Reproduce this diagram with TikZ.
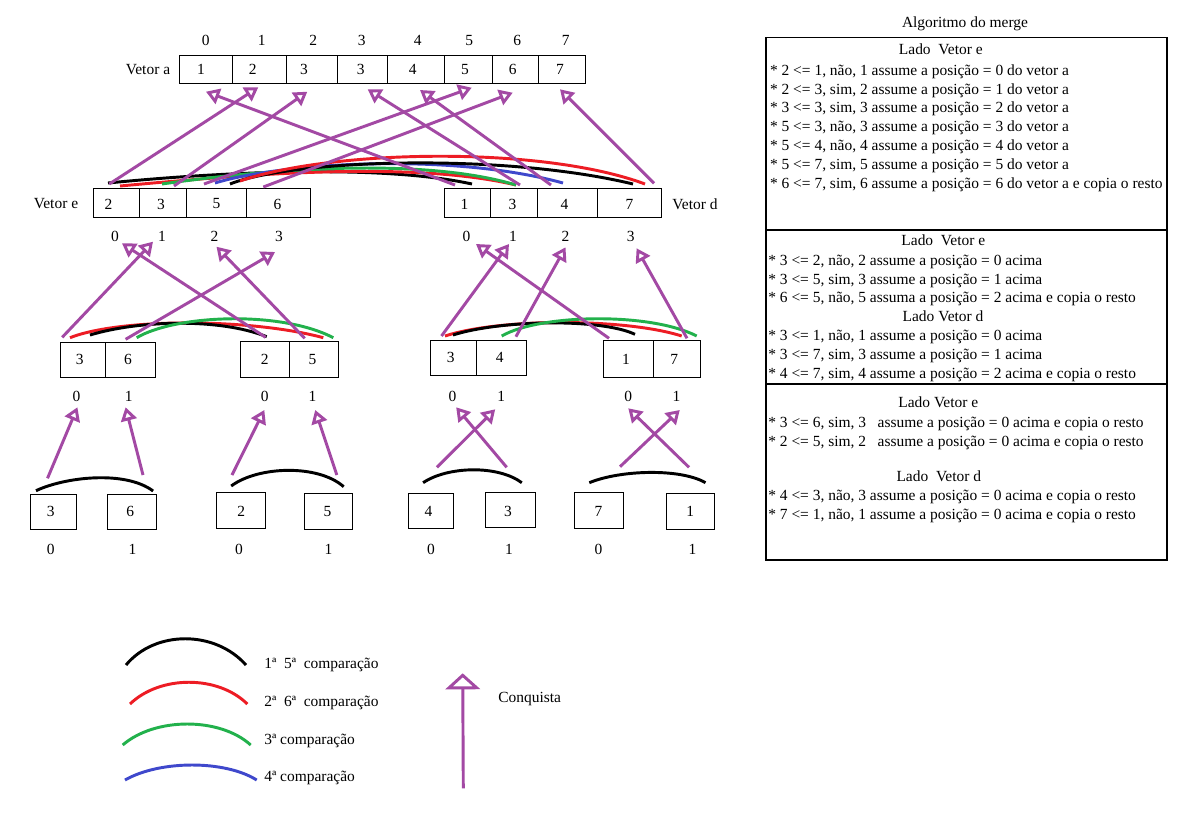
\documentclass[tikz,border=0pt]{standalone}
\usepackage{fontspec}
\setmainfont{Liberation Serif}
\usetikzlibrary{arrows.meta}
\definecolor{ppurple}{RGB}{163,73,164}
\definecolor{pred}{RGB}{237,28,36}
\definecolor{pgreen}{RGB}{34,177,76}
\definecolor{pblue}{RGB}{63,72,204}
\newcommand\cellbx[5]{\node[cellbox, minimum width={(#3-#2)*0.75pt}, minimum height={(#5-#4)*0.75pt}] (#1) at ({(#2+#3)/2},{(#4+#5)/2}) {};}
\begin{document}
\begin{tikzpicture}[x=0.75pt, y=-0.75pt,
  txt/.style={font=\fontsize{11.6}{13}\selectfont, inner sep=0pt, outer sep=0pt},
  ln/.style={txt, anchor=base west},
  cellbox/.style={draw, line width=0.75pt, inner sep=0pt, outer sep=0pt},
  conq/.style={draw=ppurple, line width=2.2pt, -{Triangle[open, length=10pt, width=12pt]}},
  bigconq/.style={draw=ppurple, line width=2.2pt, -{Triangle[open, length=12pt, width=26pt]}},
  cmp/.style={line width=2.2pt},
  panel/.style={draw, line width=1pt}]
\fill[white] (0,0) rectangle (1198,833);
\useasboundingbox (0,0) rectangle (1198,833);

% ---------- Vetor a ----------
\cellbx{a0}{179.3}{232.7}{55.7}{83.3}
\cellbx{a1}{232.7}{286.7}{55.7}{83.3}
\cellbx{a2}{286.7}{337.3}{55.7}{83.3}
\cellbx{a3}{337.3}{387.7}{55.7}{83.3}
\cellbx{a4}{387.7}{444.3}{55.7}{83.3}
\cellbx{a5}{444.3}{492.7}{55.7}{83.3}
\cellbx{a6}{492.7}{538.7}{55.7}{83.3}
\cellbx{a7}{538.7}{585.7}{55.7}{83.3}
\node[txt] (va) at (148,69.3) {Vetor a};
\foreach \x/\t [count=\i from 0] in {201/1,252.7/2,304/3,360.7/3,412.7/4,465/5,512.7/6,560/7}
  \node[txt] (na\i) at (\x,69.3) {\t};
\foreach \x [count=\i from 0] in {205.7,261.7,313.3,361.7,417.7,469.3,517.3,565.7}
  \node[txt] (ia\i) at (\x,40.7) {\i};

% ---------- Vetor e / Vetor d ----------
\cellbx{e0}{93.7}{139.6}{188.3}{217.7}
\cellbx{e1}{139.6}{186.5}{188.3}{217.7}
\cellbx{e2}{186.5}{246.3}{188.3}{217.7}
\cellbx{e3}{246.3}{310.6}{188.3}{217.7}
\cellbx{d0}{444}{490.5}{188.3}{217.7}
\cellbx{d1}{490.5}{537}{188.3}{217.7}
\cellbx{d2}{537}{597.7}{188.3}{217.7}
\cellbx{d3}{597.7}{661.5}{188.3}{217.7}
\node[txt] (ve) at (56,204) {Vetor e};
\node[txt] (vd) at (695,204) {Vetor d};
\foreach \x/\t [count=\i from 0] in {108.4/2,161/3,216.4/5,277.6/6}
  \node[txt] (ne\i) at (\x,204) {\t};
\foreach \x/\t [count=\i from 0] in {464.6/1,512.4/3,564.6/4,629.4/7}
  \node[txt] (nd\i) at (\x,204) {\t};
\foreach \x [count=\i from 0] in {115,162,214.6,279}
  \node[txt] (ie\i) at (\x,236.7) {\i};
\foreach \x [count=\i from 0] in {466.4,513,565.5,630.7}
  \node[txt] (id\i) at (\x,236.7) {\i};

% ---------- level 3 ----------
\cellbx{p0}{60}{105.9}{342.3}{377}
\cellbx{p1}{105.9}{155.4}{342.3}{377}
\cellbx{q0}{240.8}{289.5}{341.7}{377}
\cellbx{q1}{289.5}{338.2}{341.7}{377}
\cellbx{r0}{430.5}{476.4}{340.3}{375.3}
\cellbx{r1}{476.4}{526.4}{340.3}{375.3}
\cellbx{s0}{603.6}{653.6}{340.3}{377}
\cellbx{s1}{653.6}{700.9}{340.3}{377}
\node[txt] (np0) at (79.7,359.7) {3};
\node[txt] (np1) at (127.9,359.7) {6};
\node[txt] (nq0) at (264.7,359.7) {2};
\node[txt] (nq1) at (312.5,359.7) {5};
\node[txt] (nr0) at (450.7,357.8) {3};
\node[txt] (nr1) at (499.8,357.8) {4};
\node[txt] (ns0) at (626,359) {1};
\node[txt] (ns1) at (674.3,359) {7};
\foreach \x/\t/\n in {76.5/0/ip0,128.8/1/ip1,264.7/0/iq0,312.5/1/iq1,452.5/0/ir0,501.2/1/ir1,628.3/0/is0,676.6/1/is1}
  \node[txt] (\n) at (\x,396.5) {\t};

% ---------- level 4 ----------
\cellbx{u0}{30.1}{76.5}{494.3}{529.3}
\cellbx{u1}{107.2}{156.8}{494.3}{529.3}
\cellbx{u2}{216.5}{265.6}{492.3}{528.3}
\cellbx{u3}{304.7}{352.9}{493.3}{529.3}
\cellbx{u4}{408}{453.9}{493.3}{528.3}
\cellbx{u5}{485.1}{535.1}{492.3}{527.3}
\cellbx{u6}{574.2}{623.8}{492.3}{528.3}
\cellbx{u7}{666.5}{714.2}{493.3}{529.3}
\foreach \x/\t [count=\i from 0] in {50.8/3,130.2/6,241.3/2,327.6/5,428.6/4,508.1/3,598.5/7,690.3/1}
  \node[txt] (nu\i) at (\x,511.5) {\t};
\foreach \x/\t [count=\i from 0] in {50.8/0,132.5/1,239/0,328.5/1,431/0,509/1,598.5/0,692.6/1}
  \node[txt] (iu\i) at (\x,549) {\t};

% ---------- conquest arrows: level 2 -> vetor a ----------
\foreach \n/\sx/\sy/\tx/\ty in {
  e0/109.3/184/258.3/87.3, e1/174/186/307.3/91.7, e2/204/184/471.7/87.7, e3/263.3/187/512.7/92.7,
  d0/455/185/206/91.7, d1/520/185/367.7/89.3, d2/551/185/420/90, d3/654/183.3/560/89.3}{
  \coordinate (A\n s) at (\sx,\sy);
  \coordinate (A\n t) at (\tx,\ty);
}
% ---------- conquest arrows: level 3 -> level 2 ----------
\foreach \n/\sx/\sy/\tx/\ty in {
  p0/62.2/337.3/153/241.7, p1/125.6/339.3/275/252, q0/265.6/337.3/122/243.3, q1/304.7/338.3/216.5/246.7,
  r0/441.5/336/509/244, r1/515.9/336.7/565.5/247.3, s0/609/338.3/476/244, s1/687/338.3/636.6/248.3}{
  \coordinate (A\n s) at (\sx,\sy);
  \coordinate (A\n t) at (\tx,\ty);
}
% ---------- conquest arrows: level 4 -> level 3 ----------
\foreach \n/\sx/\sy/\tx/\ty in {
  u0/47.5/478.3/77.4/407.3, u1/143/475/125.6/407.3, u2/232/475/264.3/410, u3/336.8/475/315.2/410,
  u4/436.9/467.3/495.2/409.3, u5/506.7/467.3/456.2/407.3, u6/620/466.7/679.8/410, u7/689/467.3/628.3/408.3}{
  \coordinate (A\n s) at (\sx,\sy);
  \coordinate (A\n t) at (\tx,\ty);
}

% comparison arcs, level 2
\draw[cmp, black] (108,183) .. controls (220,172) and (380,164) .. (472,184);
\draw[cmp, pred] (120,186) .. controls (240,175) and (410,160) .. (516,185);
\draw[cmp, pgreen] (162,184) .. controls (260,170) and (420,156) .. (516,185);
\draw[cmp, pblue] (215,183) .. controls (280,163) and (450,152) .. (563,183);
\draw[cmp, black] (230,184) .. controls (290,160) and (500,152) .. (633,184);
\draw[cmp, pred] (240,181) .. controls (330,150) and (540,145) .. (645,184);
% level 3
\draw[cmp, pred] (70,337.7) .. controls (120,318) and (250,318) .. (323.3,337.7);
\draw[cmp, black] (90,335) .. controls (140,320) and (220,318) .. (266.7,336.7);
\draw[cmp, pgreen] (136.7,337.7) .. controls (175,315) and (280,310) .. (333.3,337.7);
\draw[cmp, pred] (445,336) .. controls (500,318) and (625,318) .. (681.7,336);
\draw[cmp, black] (453,335) .. controls (500,320) and (600,318) .. (635,334.3);
\draw[cmp, pgreen] (501.7,336) .. controls (540,314) and (650,312) .. (696.7,336);
% level 4
\draw[cmp, black] (36,490.7) .. controls (65,477) and (125,470) .. (153.1,491);
\draw[cmp, black] (231.2,486) .. controls (258,466) and (318,464) .. (343.7,486.7);
\draw[cmp, black] (423.1,482.7) .. controls (448,466) and (498,465) .. (521.8,482.7);
\draw[cmp, black] (589.3,482.7) .. controls (620,470) and (680,468) .. (705.5,482.7);

% arrows drawn on top
\foreach \n in {e0,e1,e2,e3,d0,d1,d2,d3,p0,p1,q0,q1,r0,r1,s0,s1,u0,u1,u2,u3,u4,u5,u6,u7}
  \draw[conq] (A\n s) -- (A\n t);

% ---------- legend ----------
\draw[cmp, black] (126,665) .. controls (155,630) and (215,630) .. (246,665);
\draw[cmp, pred] (130,704) .. controls (160,675) and (218,675) .. (247.3,704);
\draw[cmp, pgreen] (122.7,745) .. controls (155,717) and (220,717) .. (250.7,745);
\draw[cmp, pblue] (125,780) .. controls (160,760) and (225,760) .. (256.7,780);
\node[ln] (lg1) at (264.3,668.3) {1ª~ 5ª~ comparação};
\node[ln] (lg2) at (264.3,706.7) {2ª~ 6ª~ comparação};
\node[ln] (lg3) at (264.3,744) {3ª comparação};
\node[ln] (lg4) at (264.3,781.7) {4ª comparação};
\coordinate (cqs) at (463.3,788.3);
\coordinate (cqt) at (462.7,673.3);
\draw[bigconq] (cqs) -- (cqt);
\node[ln] (cq) at (498.3,702.3) {Conquista};

% ---------- right panel ----------
\node[txt] (title) at (965,24) {Algoritmo do merge};
\draw[panel] (766,37.3) rectangle (1167,560);
\draw[panel] (766,230) -- (1167,230);
\draw[panel] (766,384) -- (1167,384);
\node[txt, anchor=base] (h1) at (940.8,54) {Lado~~Vetor e};
\foreach \y/\t [count=\i] in {
  70/{* 2 <= 1, não, 1 assume a posição = 0 do vetor a},
  89/{* 2 <= 3, sim, 2 assume a posição = 1 do vetor a},
  107.7/{* 3 <= 3, sim, 3 assume a posição = 2 do vetor a},
  126.7/{* 5 <= 3, não, 3 assume a posição = 3 do vetor a},
  145.7/{* 5 <= 4, não, 4 assume a posição = 4 do vetor a},
  164.3/{* 5 <= 7, sim, 5 assume a posição = 5 do vetor a},
  183.3/{* 6 <= 7, sim, 6 assume a posição = 6 do vetor a e copia o resto}}
  \node[ln] (s1l\i) at (770,\y+5) {\t};
\node[txt, anchor=base] (h2) at (943.3,245) {Lado~~Vetor e};
\foreach \y/\t [count=\i] in {
  260/{* 3 <= 2, não, 2 assume a posição = 0 acima},
  279/{* 3 <= 5, sim, 3 assume a posição = 1 acima},
  297.7/{* 6 <= 5, não, 5 assuma a posição = 2 acima e copia o resto}}
  \node[ln] (s2l\i) at (768.3,\y+5) {\t};
\node[txt, anchor=base] (h3) at (943,321.7) {Lado Vetor d};
\foreach \y/\t [count=\i] in {
  335.7/{* 3 <= 1, não, 1 assume a posição = 0 acima},
  354.3/{* 3 <= 7, sim, 3 assume a posição = 1 acima},
  373.3/{* 4 <= 7, sim, 4 assume a posição = 2 acima e copia o resto}}
  \node[ln] (s3l\i) at (768.3,\y+5) {\t};
\node[txt, anchor=base] (h4) at (938.3,407.7) {Lado Vetor e};
\node[ln] (s4l1) at (768.3,427.7) {* 3 <= 6, sim, 3~~ assume a posição = 0 acima e copia o resto};
\node[ln] (s4l2) at (768.3,446.7) {* 2 <= 5, sim, 2~~ assume a posição = 0 acima e copia o resto};
\node[txt, anchor=base] (h5) at (938.8,481.7) {Lado~ Vetor d};
\node[ln] (s5l1) at (768.3,500) {* 4 <= 3, não, 3 assume a posição = 0 acima e copia o resto};
\node[ln] (s5l2) at (768.3,519) {* 7 <= 1, não, 1 assume a posição = 0 acima e copia o resto};
\end{tikzpicture}
\end{document}
